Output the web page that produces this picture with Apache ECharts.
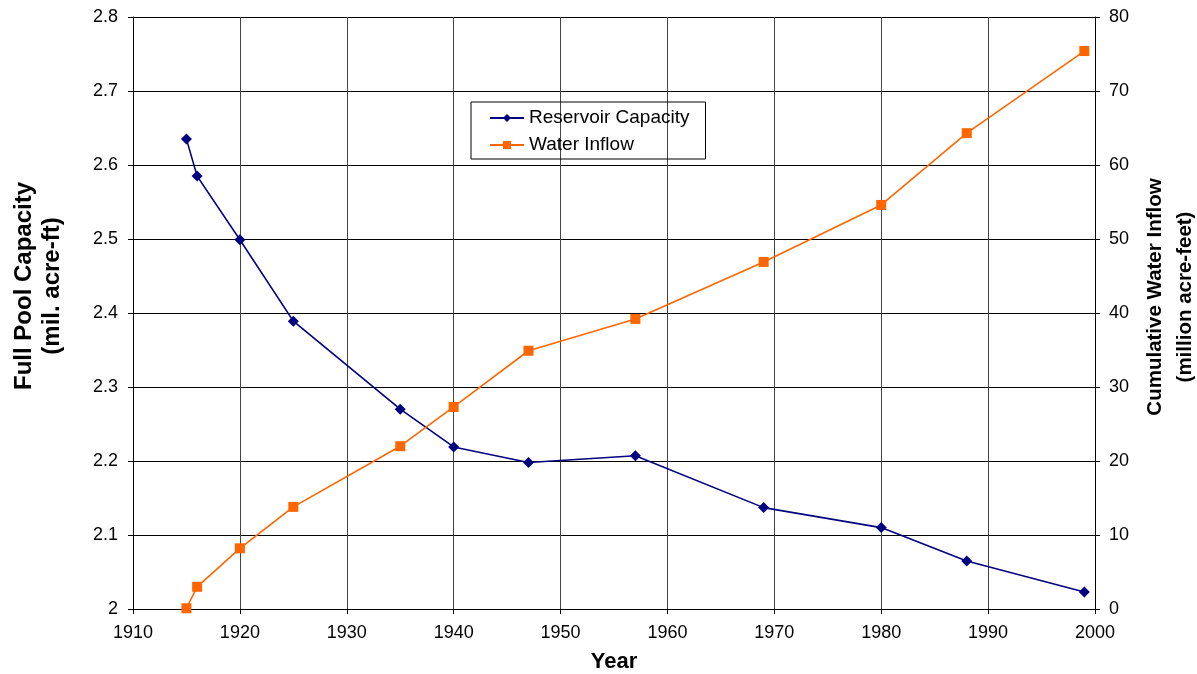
<!DOCTYPE html>
<html>
<head>
<meta charset="utf-8">
<script src="https://cdn.jsdelivr.net/npm/echarts@6/dist/echarts.min.js"></script>
<style>
  html, body { margin: 0; padding: 0; background: #fff; }
  #chart { width: 1197px; height: 674px; }
</style>
</head>
<body>
<div id="chart"></div>
<script>
  // survey years and values
  var capacityYears = [1915, 1916, 1920, 1925, 1935, 1940, 1947, 1957, 1969, 1980, 1988, 1999]
  var capacity = [2.635, 2.585, 2.499, 2.389, 2.270, 2.219, 2.198, 2.207, 2.137, 2.110, 2.065, 2.023]
  var inflowYears = [1915, 1916, 1920, 1925, 1935, 1940, 1947, 1957, 1969, 1980, 1988, 1999]
  var inflow = [0.1, 3.0, 8.2, 13.8, 22.0, 27.3, 34.9, 39.2, 46.9, 54.6, 64.3, 75.4]

  var chart = echarts.init(document.getElementById('chart'))
  var font = 'Liberation Sans, Arial, sans-serif'

  function pairs(xs, ys) {
    return xs.map(function (x, i) { return [x, ys[i]] })
  }

  chart.setOption({
    animation: false,
    textStyle: { fontFamily: font },
    grid: { left: 133, right: 102, top: 17, bottom: 65, outerBoundsMode: 'none', containLabel: false },
    legend: {
      orient: 'vertical',
      left: 471,
      top: 102,
      padding: [6, 16, 4, 18],
      itemGap: 7,
      itemWidth: 34,
      itemHeight: 10,
      borderColor: '#000',
      borderWidth: 1,
      borderRadius: 0,
      textStyle: { fontSize: 19, lineHeight: 20, color: '#000', fontFamily: font },
      data: ['Reservoir Capacity', 'Water Inflow']
    },
    xAxis: {
      type: 'value',
      min: 1910,
      max: 2000,
      interval: 10,
      name: 'Year',
      nameLocation: 'middle',
      nameGap: 42,
      nameTextStyle: { fontSize: 22, fontWeight: 'bold', color: '#000', fontFamily: font },
      axisLine: { lineStyle: { color: '#000', width: 1 } },
      axisTick: { inside: false, length: 5, lineStyle: { color: '#000' } },
      axisLabel: { fontSize: 18, color: '#000', margin: 15, formatter: function (v) { return String(v) } },
      splitLine: { show: true, lineStyle: { color: '#444', width: 1 } }
    },
    yAxis: [{
      type: 'value',
      min: 2,
      max: 2.8,
      interval: 0.1,
      name: 'Full Pool Capacity\n(mil. acre-ft)',
      nameLocation: 'middle',
      nameGap: 67,
      nameTextStyle: {
        fontSize: 24, fontWeight: 'bold', color: '#000', lineHeight: 28, fontFamily: font,
        padding: [0, 0, 0, 54]
      },
      axisLine: { show: true, lineStyle: { color: '#000', width: 1 } },
      axisTick: { show: true, length: 5, lineStyle: { color: '#000' } },
      axisLabel: {
        fontSize: 18, color: '#000', margin: 15,
        formatter: function (v) { return v === 2 ? '2' : v.toFixed(1) }
      },
      splitLine: { show: true, lineStyle: { color: '#000', width: 1 } }
    }, {
      type: 'value',
      min: 0,
      max: 80,
      interval: 10,
      name: 'Cumulative Water Inflow\n(million acre-feet)',
      nameLocation: 'middle',
      nameGap: 43,
      nameRotate: 90,
      nameTextStyle: {
        fontSize: 20.5, fontWeight: 'bold', color: '#000', lineHeight: 30, fontFamily: font,
        padding: [0, 0, 0, 32]
      },
      axisLine: { show: true, lineStyle: { color: '#000', width: 1 } },
      axisTick: { show: true, length: 5, lineStyle: { color: '#000' } },
      axisLabel: { fontSize: 18, color: '#000', margin: 14 },
      splitLine: { show: false }
    }],
    series: [{
      name: 'Reservoir Capacity',
      type: 'line',
      yAxisIndex: 0,
      data: pairs(capacityYears, capacity),
      symbol: 'diamond',
      symbolSize: 11,
      itemStyle: { color: '#000080' },
      lineStyle: { color: '#000080', width: 1.6 }
    }, {
      name: 'Water Inflow',
      type: 'line',
      yAxisIndex: 1,
      data: pairs(inflowYears, inflow),
      symbol: 'rect',
      symbolSize: 10,
      itemStyle: { color: '#FF6600' },
      lineStyle: { color: '#FF6600', width: 1.6 }
    }]
  })
</script>
</body>
</html>
